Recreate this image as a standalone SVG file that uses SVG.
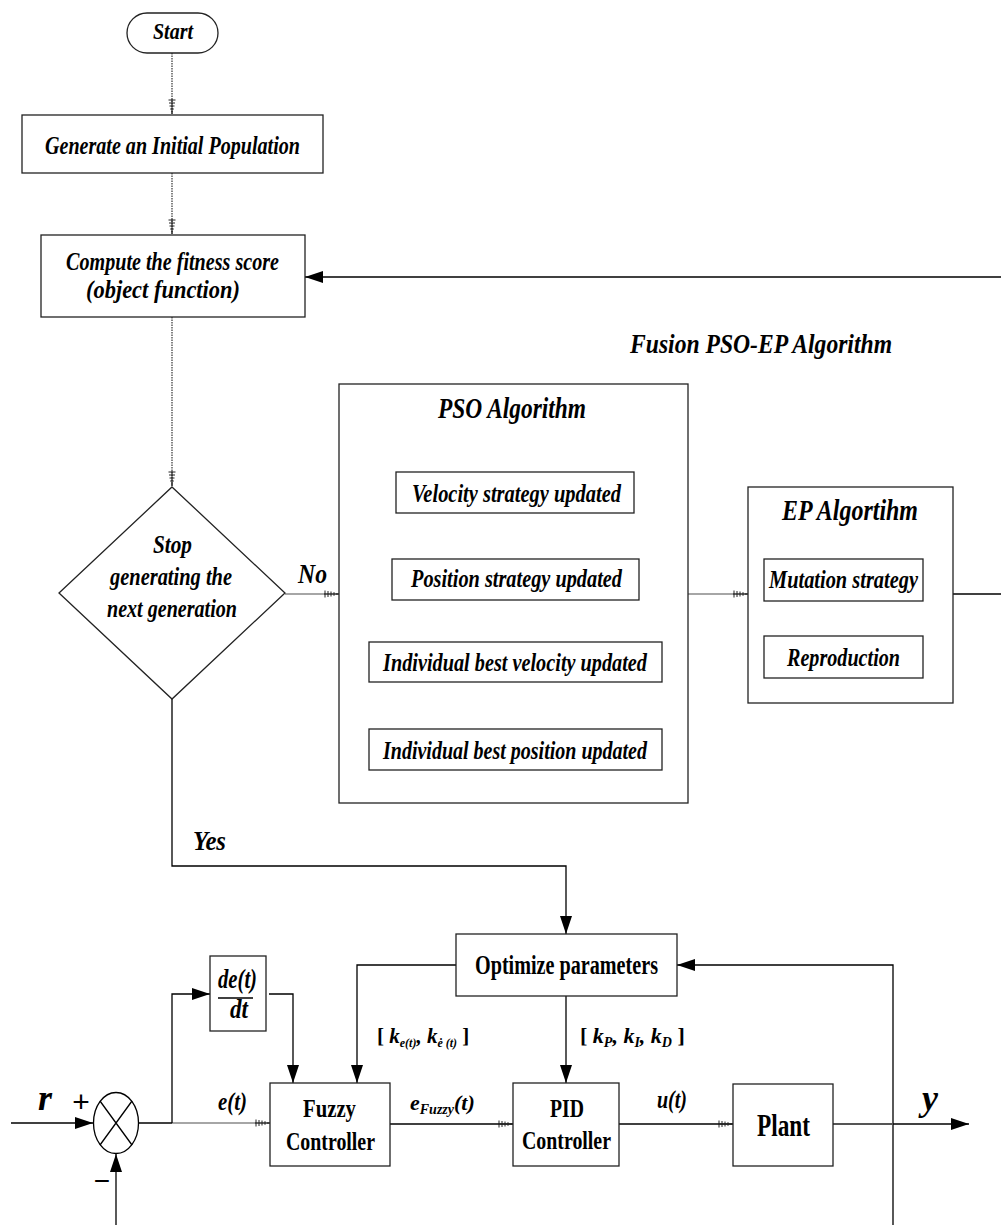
<svg xmlns="http://www.w3.org/2000/svg" width="1001" height="1225" viewBox="0 0 1001 1225">
<style>
.t{font-family:"Liberation Serif","Times New Roman",serif;font-weight:bold;font-style:italic;fill:#000}
.u{font-family:"Liberation Serif","Times New Roman",serif;font-weight:bold;fill:#000}
.box{fill:#fff;stroke:#222;stroke-width:1.3}
.ln{fill:none;stroke:#000;stroke-width:1.3}
.gl{fill:none;stroke:#888;stroke-width:1.3}
.dot{fill:none;stroke:#333;stroke-width:1.2;stroke-dasharray:1.5 1}
</style>
<defs>
<marker id="fa" markerUnits="userSpaceOnUse" viewBox="0 0 18 12" refX="18" refY="6" markerWidth="18" markerHeight="12" orient="auto"><path d="M0,0 L18,6 L0,12 z" fill="#000"/></marker>
<marker id="ha" markerUnits="userSpaceOnUse" viewBox="-15 -5 16 10" refX="0" refY="0" markerWidth="16" markerHeight="10" orient="auto"><path d="M-14,-3.5V3.5M-11,-3V3M-8,-2.5V2.5M-5,-1.8V1.8M-2,-1V1M-15,0H0" stroke="#222" stroke-width="1" fill="none"/></marker>
</defs>
<g id="connectors">
<path class="dot" d="M172,53V114" marker-end="url(#ha)"/>
<path class="dot" d="M172,173V234" marker-end="url(#ha)"/>
<path class="dot" d="M172,317V486" marker-end="url(#ha)"/>
<path class="ln" d="M1001,277H305" marker-end="url(#fa)"/>
<path class="gl" d="M285,594H339" marker-end="url(#ha)"/>
<path class="dot" d="M515,513V558" marker-end="url(#ha)"/>
<path class="ln" d="M515,600V640" marker-end="url(#ha)"/>
<path class="dot" d="M516,682V728" marker-end="url(#ha)"/>
<path class="gl" d="M688,594H748" marker-end="url(#ha)"/>
<path class="ln" d="M843,601V635" marker-end="url(#ha)"/>
<path class="ln" d="M953,594H1001"/>
<path class="ln" d="M172,699V866H566V934" marker-end="url(#fa)"/>
<path class="ln" d="M456,965H357V1083" marker-end="url(#fa)"/>
<path class="ln" d="M566,996V1083" marker-end="url(#fa)"/>
<path class="ln" d="M893,1225V965H677" marker-end="url(#fa)"/>
<path class="ln" d="M11,1123H93" marker-end="url(#fa)"/>
<path class="ln" d="M116,1225V1154" marker-end="url(#fa)"/>
<path class="ln" d="M138,1123H172"/>
<path class="gl" d="M172,1123H270" marker-end="url(#ha)"/>
<path class="ln" d="M172,1123V994H210" marker-end="url(#fa)"/>
<path class="ln" d="M269,994H293V1083" marker-end="url(#fa)"/>
<path class="ln" d="M390,1124H513" marker-end="url(#ha)"/>
<path class="ln" d="M619,1124H733" marker-end="url(#ha)"/>
<path d="M833,1124H893" stroke="#555" stroke-width="2.2" fill="none"/>
<path class="ln" d="M893,1124H969" marker-end="url(#fa)"/>
</g>
<g id="start">
<rect class="box" x="127" y="13" width="91" height="40" rx="20"/>
<text class="t" x="153" y="39" font-size="24" textLength="40" lengthAdjust="spacingAndGlyphs">Start</text>
</g>
<g id="generate">
<rect class="box" x="22" y="115" width="301" height="58"/>
<text class="t" x="45" y="154" font-size="25" textLength="255" lengthAdjust="spacingAndGlyphs">Generate an Initial Population</text>
</g>
<g id="compute">
<rect class="box" x="41" y="235" width="264" height="82"/>
<text class="t" x="66" y="270" font-size="25" textLength="213" lengthAdjust="spacingAndGlyphs">Compute the fitness score</text>
<text class="t" x="86" y="298" font-size="25" textLength="154" lengthAdjust="spacingAndGlyphs">(object function)</text>
</g>
<g id="decision">
<path class="box" d="M172,487L285,593L172,699L59,593z"/>
<text class="t" x="153" y="553" font-size="25" textLength="39" lengthAdjust="spacingAndGlyphs">Stop</text>
<text class="t" x="110" y="585" font-size="25" textLength="122" lengthAdjust="spacingAndGlyphs">generating the</text>
<text class="t" x="107" y="617" font-size="25" textLength="130" lengthAdjust="spacingAndGlyphs">next generation</text>
</g>
<g id="labels-flow">
<text class="t" x="298" y="583" font-size="28" textLength="29" lengthAdjust="spacingAndGlyphs">No</text>
<text class="t" x="193" y="850" font-size="28" textLength="33" lengthAdjust="spacingAndGlyphs">Yes</text>
<text class="t" x="630" y="353" font-size="28" textLength="262" lengthAdjust="spacingAndGlyphs">Fusion PSO-EP Algorithm</text>
</g>
<g id="pso">
<rect class="box" x="339" y="384" width="349" height="419" fill="none"/>
<text class="t" x="438" y="418" font-size="29" textLength="148" lengthAdjust="spacingAndGlyphs">PSO Algorithm</text>
</g>
<g id="velocity">
<rect class="box" x="396" y="472" width="238" height="41"/>
<text class="t" x="412" y="502" font-size="26" textLength="209" lengthAdjust="spacingAndGlyphs">Velocity strategy updated</text>
</g>
<g id="position">
<rect class="box" x="392" y="559" width="247" height="41"/>
<text class="t" x="411" y="587" font-size="26" textLength="211" lengthAdjust="spacingAndGlyphs">Position strategy updated</text>
</g>
<g id="ibv">
<rect class="box" x="369" y="642" width="293" height="40"/>
<text class="t" x="383" y="671" font-size="26" textLength="264" lengthAdjust="spacingAndGlyphs">Individual best velocity updated</text>
</g>
<g id="ibp">
<rect class="box" x="369" y="729" width="293" height="41"/>
<text class="t" x="383" y="759" font-size="26" textLength="264" lengthAdjust="spacingAndGlyphs">Individual best position updated</text>
</g>
<g id="ep">
<rect class="box" x="748" y="487" width="205" height="216"/>
<text class="t" x="782" y="520" font-size="29" textLength="136" lengthAdjust="spacingAndGlyphs">EP Algortihm</text>
</g>
<g id="mutation">
<rect class="box" x="764" y="559" width="159" height="42"/>
<text class="t" x="769" y="588" font-size="26" textLength="149" lengthAdjust="spacingAndGlyphs">Mutation strategy</text>
</g>
<g id="reproduction">
<rect class="box" x="764" y="636" width="159" height="42"/>
<text class="t" x="787" y="666" font-size="26" textLength="113" lengthAdjust="spacingAndGlyphs">Reproduction</text>
</g>
<g id="optimize">
<rect class="box" x="456" y="934" width="221" height="62"/>
<text class="u" x="475" y="974" font-size="28" textLength="183" lengthAdjust="spacingAndGlyphs">Optimize parameters</text>
</g>
<g id="sum">
<ellipse cx="116" cy="1123" rx="22.5" ry="30.5" fill="#fff" stroke="#000" stroke-width="1.3"/>
<path class="ln" d="M100,1101L132,1145M132,1101L100,1145"/>
</g>
<g id="deriv">
<rect class="box" x="210" y="956" width="56" height="75"/>
<text class="t" x="218" y="988" font-size="27" textLength="39" lengthAdjust="spacingAndGlyphs">de(t)</text>
<path class="ln" d="M218,998H253"/>
<text class="t" x="230" y="1018" font-size="27" textLength="18" lengthAdjust="spacingAndGlyphs">dt</text>
</g>
<g id="fuzzy">
<rect class="box" x="270" y="1083" width="120" height="83"/>
<text class="u" x="303" y="1117" font-size="25" textLength="53" lengthAdjust="spacingAndGlyphs">Fuzzy</text>
<text class="u" x="286" y="1150" font-size="25" textLength="89" lengthAdjust="spacingAndGlyphs">Controller</text>
</g>
<g id="pid">
<rect class="box" x="513" y="1083" width="106" height="83"/>
<text class="u" x="550" y="1117" font-size="25" textLength="34" lengthAdjust="spacingAndGlyphs">PID</text>
<text class="u" x="522" y="1149" font-size="25" textLength="89" lengthAdjust="spacingAndGlyphs">Controller</text>
</g>
<g id="plant">
<rect class="box" x="733" y="1084" width="100" height="82"/>
<text class="u" x="757" y="1136" font-size="32" textLength="53" lengthAdjust="spacingAndGlyphs">Plant</text>
</g>
<g id="signal-labels">
<text class="t" x="38" y="1110" font-size="36">r</text>
<text x="81" y="1112" font-size="30" text-anchor="middle" font-family="Liberation Sans, sans-serif">+</text>
<text x="102" y="1190" font-size="28" text-anchor="middle" font-family="Liberation Sans, sans-serif">−</text>
<text class="t" x="218" y="1110" font-size="26" textLength="29" lengthAdjust="spacingAndGlyphs">e(t)</text>
<text class="t" x="410" y="1110" font-size="22">e<tspan font-size="14" dy="4">Fuzzy</tspan><tspan dy="-4">(t)</tspan></text>
<text class="t" x="657" y="1108" font-size="26" textLength="30" lengthAdjust="spacingAndGlyphs">u(t)</text>
<text class="t" x="922" y="1110" font-size="36">y</text>
<text class="t" x="377" y="1043" font-size="21"><tspan font-style="normal">[ </tspan>k<tspan font-size="12" dy="4">e(t)</tspan><tspan dy="-4">, k</tspan><tspan font-size="12" dy="4">ė (t)</tspan><tspan dy="-4" font-style="normal"> ]</tspan></text>
<text class="t" x="580" y="1043" font-size="22"><tspan font-style="normal">[ </tspan>k<tspan font-size="14" dy="4">P</tspan><tspan dy="-4">, k</tspan><tspan font-size="14" dy="4">I</tspan><tspan dy="-4">, k</tspan><tspan font-size="14" dy="4">D</tspan><tspan dy="-4" font-style="normal"> ]</tspan></text>
</g>
</svg>
